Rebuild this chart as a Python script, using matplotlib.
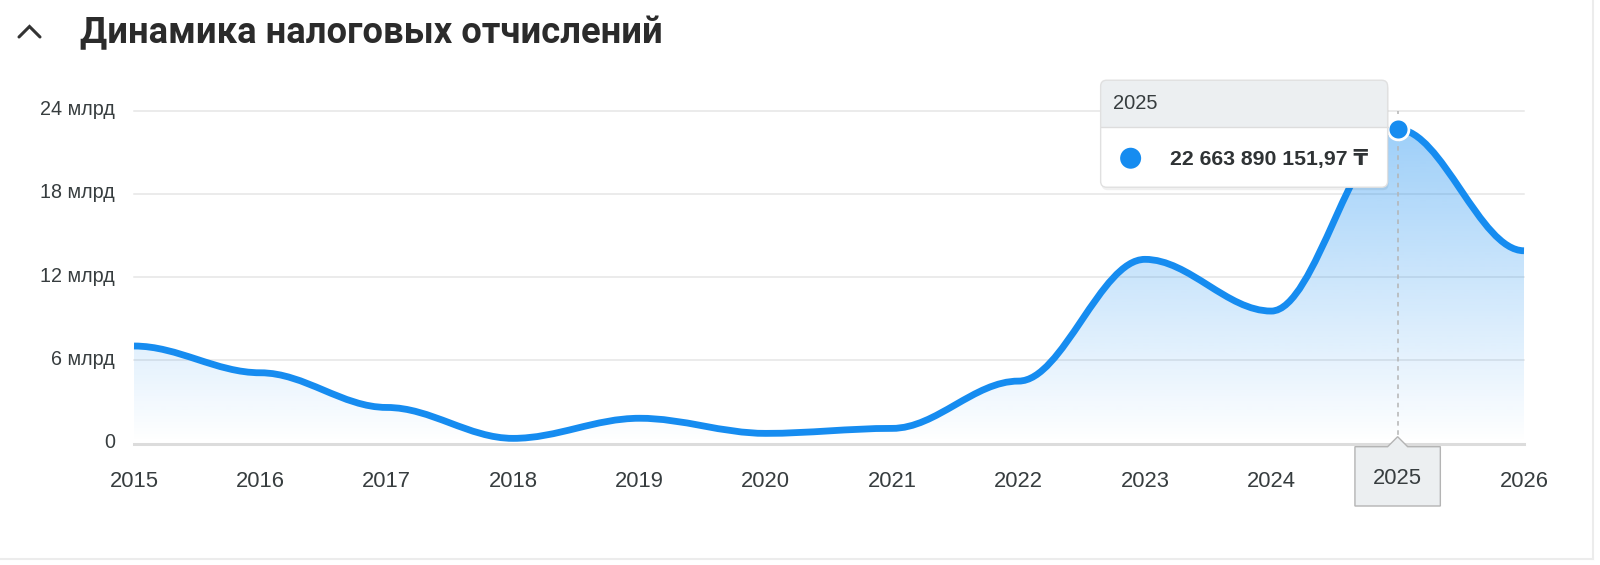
import matplotlib
matplotlib.use('Agg')
import matplotlib.pyplot as plt
import matplotlib.patches as mpatches
import matplotlib.transforms as mtransforms
from matplotlib.path import Path
from matplotlib.lines import Line2D
import numpy as np

# Данные: налоговые отчисления по годам, млрд ₸
years = [2015, 2016, 2017, 2018, 2019, 2020, 2021, 2022, 2023, 2024, 2025, 2026]
values = [7.03, 5.1, 2.6, 0.37, 1.82, 0.73, 1.09, 4.5, 13.28, 9.55, 22.66389015197, 13.9]
y_ticks = [0, 6, 12, 18, 24]
y_tick_labels = ['0', '6 млрд', '12 млрд', '18 млрд', '24 млрд']
title = 'Динамика налоговых отчислений'
hover_year = 2025
hover_value_text = '22 663 890 151,97 ₸'

LINE = '#168cf0'
TXT = '#373d3f'
W, H = 1600, 565
FONT = ['Liberation Sans', 'DejaVu Sans']

plt.rcParams['font.family'] = FONT

fig = plt.figure(figsize=(W / 100, H / 100), dpi=100)
ax = fig.add_axes([134 / W, 1 - 443.5 / H, (1524 - 134) / W, (443.5 - 110.7) / H])

# сглаженная линия (кубические кривые Безье с горизонтальными касательными)
verts = [(years[0], values[0])]
codes = [Path.MOVETO]
for i in range(1, len(years)):
    x0, y0 = years[i - 1], values[i - 1]
    x1, y1 = years[i], values[i]
    d = (x1 - x0) * 0.35
    verts += [(x0 + d, y0), (x1 - d, y1), (x1, y1)]
    codes += [Path.CURVE4] * 3

line_patch = mpatches.PathPatch(Path(verts, codes), facecolor='none', edgecolor=LINE,
                                lw=4.9, capstyle='butt', joinstyle='round', zorder=4, clip_on=False)

fill_verts = verts + [(years[-1], 0), (years[0], 0), (years[0], values[0])]
fill_codes = codes + [Path.LINETO, Path.LINETO, Path.CLOSEPOLY]
fill_patch = mpatches.PathPatch(Path(fill_verts, fill_codes), facecolor='none', edgecolor='none')
ax.add_patch(fill_patch)

# градиентная заливка под линией
grad = np.zeros((256, 1, 4))
rgb = matplotlib.colors.to_rgb(LINE)
grad[:, 0, 0] = rgb[0]
grad[:, 0, 1] = rgb[1]
grad[:, 0, 2] = rgb[2]
grad[:, 0, 3] = np.linspace(0.0, 0.42, 256)
im = ax.imshow(grad, extent=[years[0], years[-1], 0, max(values)], origin='lower',
               aspect='auto', zorder=2, interpolation='bilinear')
im.set_clip_path(fill_patch)

ax.add_patch(line_patch)

ax.set_xlim(years[0], years[-1])
ax.set_ylim(0, 24)

for v in y_ticks[1:]:
    ax.axhline(v, color='#e6e6e6', lw=1.1, zorder=1, clip_on=False)
ax.axhline(0, color='#dcdcdc', lw=2.2, zorder=1, clip_on=False)

for s in ax.spines.values():
    s.set_visible(False)

ax.set_yticks(y_ticks, y_tick_labels)
ax.set_xticks(years, [str(y) for y in years])
ax.tick_params(axis='y', length=0, pad=13.7, labelsize=14.2, labelcolor=TXT)
ax.tick_params(axis='x', length=0, pad=20, labelsize=15.8, labelcolor=TXT)
lift = mtransforms.ScaledTranslation(0, 3 / 100, fig.dpi_scale_trans)
for lab in ax.get_yticklabels():
    lab.set_transform(lab.get_transform() + lift)
for lab, yr in zip(ax.get_xticklabels(), years):
    if yr == hover_year:
        lab.set_visible(False)

# вертикальный курсор и маркер
hv = values[years.index(hover_year)]
ax.plot([hover_year, hover_year], [0, 24], ls=(0, (3, 3)), color='#b4b4b4', lw=1.1, zorder=3)
ax.plot([hover_year], [hv], 'o', ms=15, mfc=LINE, mec='white', mew=2, zorder=6, clip_on=False)

# подсказка (в пикселях относительно точки)
fig.canvas.draw()
ptx, pty = ax.transData.transform((hover_year, hv))
_, ax0 = ax.transData.transform((hover_year, 0))
ident = mtransforms.IdentityTransform()

left, right = ptx - 297, ptx - 10
top, bottom = pty + 49, pty - 58
div = pty + 2

shadow = mpatches.FancyBboxPatch((left + 1, bottom - 3), right - left, top - bottom,
                                 boxstyle='round,pad=0,rounding_size=6', transform=ident,
                                 facecolor='black', edgecolor='none', alpha=0.06, zorder=20)
fig.add_artist(shadow)
box = mpatches.FancyBboxPatch((left, bottom), right - left, top - bottom,
                              boxstyle='round,pad=0,rounding_size=6', transform=ident,
                              facecolor='white', edgecolor='none', zorder=21)
fig.add_artist(box)
header = mpatches.Rectangle((left, div), right - left, top - div, transform=ident,
                            facecolor='#eceff1', edgecolor='none', zorder=22)
header.set_clip_path(box)
fig.add_artist(header)
fig.add_artist(Line2D([left, right], [div, div], transform=ident, color='#dddddd', lw=1, zorder=23))
edge = mpatches.FancyBboxPatch((left, bottom), right - left, top - bottom,
                               boxstyle='round,pad=0,rounding_size=6', transform=ident,
                               facecolor='none', edgecolor='#e0e0e0', lw=1, zorder=24)
fig.add_artist(edge)
fig.text(left + 12, (top + div) / 2, str(hover_year), transform=ident, fontsize=14.5,
         color=TXT, ha='left', va='center', zorder=25)
fig.add_artist(mpatches.Circle((left + 30, pty - 29), 10.5, transform=ident,
                               facecolor=LINE, edgecolor='none', zorder=25))
fig.text(left + 69, pty - 30.5, hover_value_text, transform=ident, fontsize=15.3,
         fontweight='bold', color='#2f3335', ha='left', va='center', zorder=25)

# подпись курсора на оси X
bx0, bx1 = ptx - 42.7, ptx + 42.7
btop, bbot = ax0 - 3.2, ax0 - 62.5
xbox = mpatches.Polygon([(bx0, bbot), (bx0, btop), (ptx - 10, btop), (ptx, ax0 + 6.8),
                         (ptx + 10, btop), (bx1, btop), (bx1, bbot)], closed=True,
                        transform=ident, facecolor='#eceff1', edgecolor='#b4b4b4', lw=1, zorder=20)
fig.add_artist(xbox)
fig.text(ptx, ax0 - 34.8, str(hover_year), transform=ident, fontsize=15.8, color=TXT,
         ha='center', va='center', zorder=21)

# заголовок и шеврон
fig.text(80 / W, 1 - 43 / H, title, fontsize=26.2, fontweight='bold', color='#2b2b2b',
         ha='left', va='baseline', family=['Roboto', 'DejaVu Sans'])
fig.add_artist(Line2D([19 / W, 29.5 / W, 40 / W], [1 - 37 / H, 1 - 26.5 / H, 1 - 37 / H],
                      color='#333333', lw=2.2, solid_capstyle='round', solid_joinstyle='miter'))

# рамка карточки
fig.add_artist(Line2D([0, 1593 / W], [1 - 559 / H, 1 - 559 / H], color='#ececec', lw=1.5))
fig.add_artist(Line2D([1593 / W, 1593 / W], [1 - 559 / H, 1], color='#ececec', lw=1.5))

fig.savefig('out.png', dpi=100, facecolor='white')
